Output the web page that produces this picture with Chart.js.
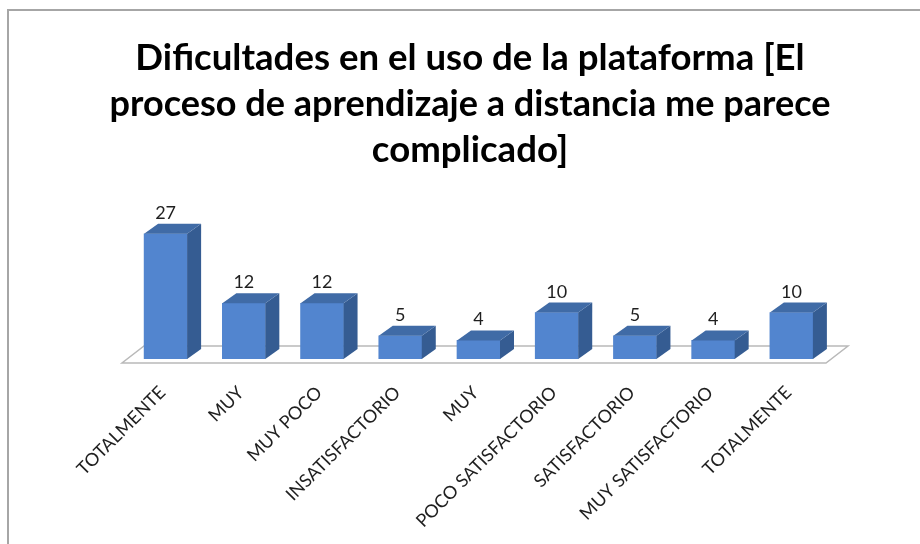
<!DOCTYPE html>
<html>
<head>
<meta charset="utf-8">
<script src="https://cdn.jsdelivr.net/npm/chart.js@4"></script>
<style>
  html, body { margin: 0; padding: 0; background: #fff; }
  #wrap { position: absolute; left: 0; top: 0; width: 920px; height: 544px; }
  #frame { position: absolute; left: 7px; top: 9px; width: 913px; height: 535px; border-left: 2px solid #a6a6a6; border-top: 2px solid #a6a6a6; box-sizing: border-box; }
  canvas { position: absolute; left: 0; top: 0; }
</style>
</head>
<body>
<div id="wrap">
  <div id="frame"></div>
  <canvas id="chart" width="920" height="544"></canvas>
</div>
<script>
const titleLines = [
  "Dificultades en el uso de la plataforma [El",
  "proceso de aprendizaje a distancia me parece",
  "complicado]"
];
const categories = [
  "TOTALMENTE",
  "MUY",
  "MUY POCO",
  "INSATISFACTORIO",
  "MUY",
  "POCO SATISFACTORIO",
  "SATISFACTORIO",
  "MUY SATISFACTORIO",
  "TOTALMENTE"
];
const values = [27, 12, 12, 5, 4, 10, 5, 4, 10];

const DEPTH_X = 14;
const DEPTH_Y = 10;

const shape = (ctx, points, fill) => {
  ctx.beginPath();
  points.forEach(([x, y], i) => (i ? ctx.lineTo(x, y) : ctx.moveTo(x, y)));
  ctx.closePath();
  ctx.fillStyle = fill;
  ctx.fill();
};

// floor under the bars, drawn before the datasets
const floor = {
  id: "floor",
  beforeDatasetsDraw(chart) {
    const { ctx, chartArea } = chart;
    const left = chartArea.left - 4.5;
    const right = chartArea.right - 4.5;
    const front = chartArea.bottom + 4;
    const back = chartArea.bottom - 13;
    ctx.save();
    ctx.strokeStyle = "#b9b9b9";
    ctx.lineWidth = 1.5;
    ctx.beginPath();
    ctx.moveTo(left, front);
    ctx.lineTo(right, front);
    ctx.lineTo(right + 22, back);
    ctx.lineTo(left + 22, back);
    ctx.closePath();
    ctx.stroke();
    ctx.restore();
  }
};

// side and top faces of the bars plus the value labels
const faces = {
  id: "faces",
  afterDatasetsDraw(chart) {
    const { ctx } = chart;
    chart.getDatasetMeta(0).data.forEach((bar, i) => {
      const l = bar.x - bar.width / 2;
      const r = bar.x + bar.width / 2;
      const t = bar.y;
      const b = bar.base;
      ctx.save();
      shape(ctx, [[r, t], [r + DEPTH_X, t - DEPTH_Y], [r + DEPTH_X, b - DEPTH_Y], [r, b]], "#355c92");
      shape(ctx, [[l, t], [l + DEPTH_X, t - DEPTH_Y], [r + DEPTH_X, t - DEPTH_Y], [r, t]], "#406ba6");
      ctx.fillStyle = "#1f1f1f";
      ctx.font = "18px Lato";
      ctx.textAlign = "center";
      ctx.textBaseline = "alphabetic";
      ctx.fillText(String(values[i]), bar.x, t - 15);
      ctx.restore();
    });
  }
};

new Chart(document.getElementById("chart"), {
  type: "bar",
  data: {
    labels: categories,
    datasets: [{
      data: values,
      backgroundColor: "#5285cf",
      barThickness: 43
    }]
  },
  plugins: [floor, faces],
  options: {
    responsive: false,
    animation: false,
    layout: { padding: { left: 109.5, right: 89.5, top: 0, bottom: 0 } },
    plugins: {
      legend: { display: false },
      tooltip: { enabled: false },
      title: {
        display: true,
        text: titleLines,
        color: "#000",
        font: { family: "Lato", size: 36.6, weight: "bold", lineHeight: 1.264 },
        padding: { top: 35, bottom: 46 }
      }
    },
    scales: {
      x: {
        grid: { display: false },
        border: { display: false },
        afterFit: (axis) => { axis.height = 185; axis.paddingLeft = 0; axis.paddingRight = 0; },
        ticks: {
          color: "#1f1f1f",
          font: { family: "Lato", size: 18 },
          minRotation: 45,
          maxRotation: 45,
          autoSkip: false,
          padding: 15,
          labelOffset: -3
        }
      },
      y: {
        min: 0,
        max: 30,
        grid: { display: false },
        border: { display: false },
        ticks: { display: false },
        afterFit: (axis) => { axis.width = 17; }
      }
    }
  }
});
</script>
</body>
</html>
